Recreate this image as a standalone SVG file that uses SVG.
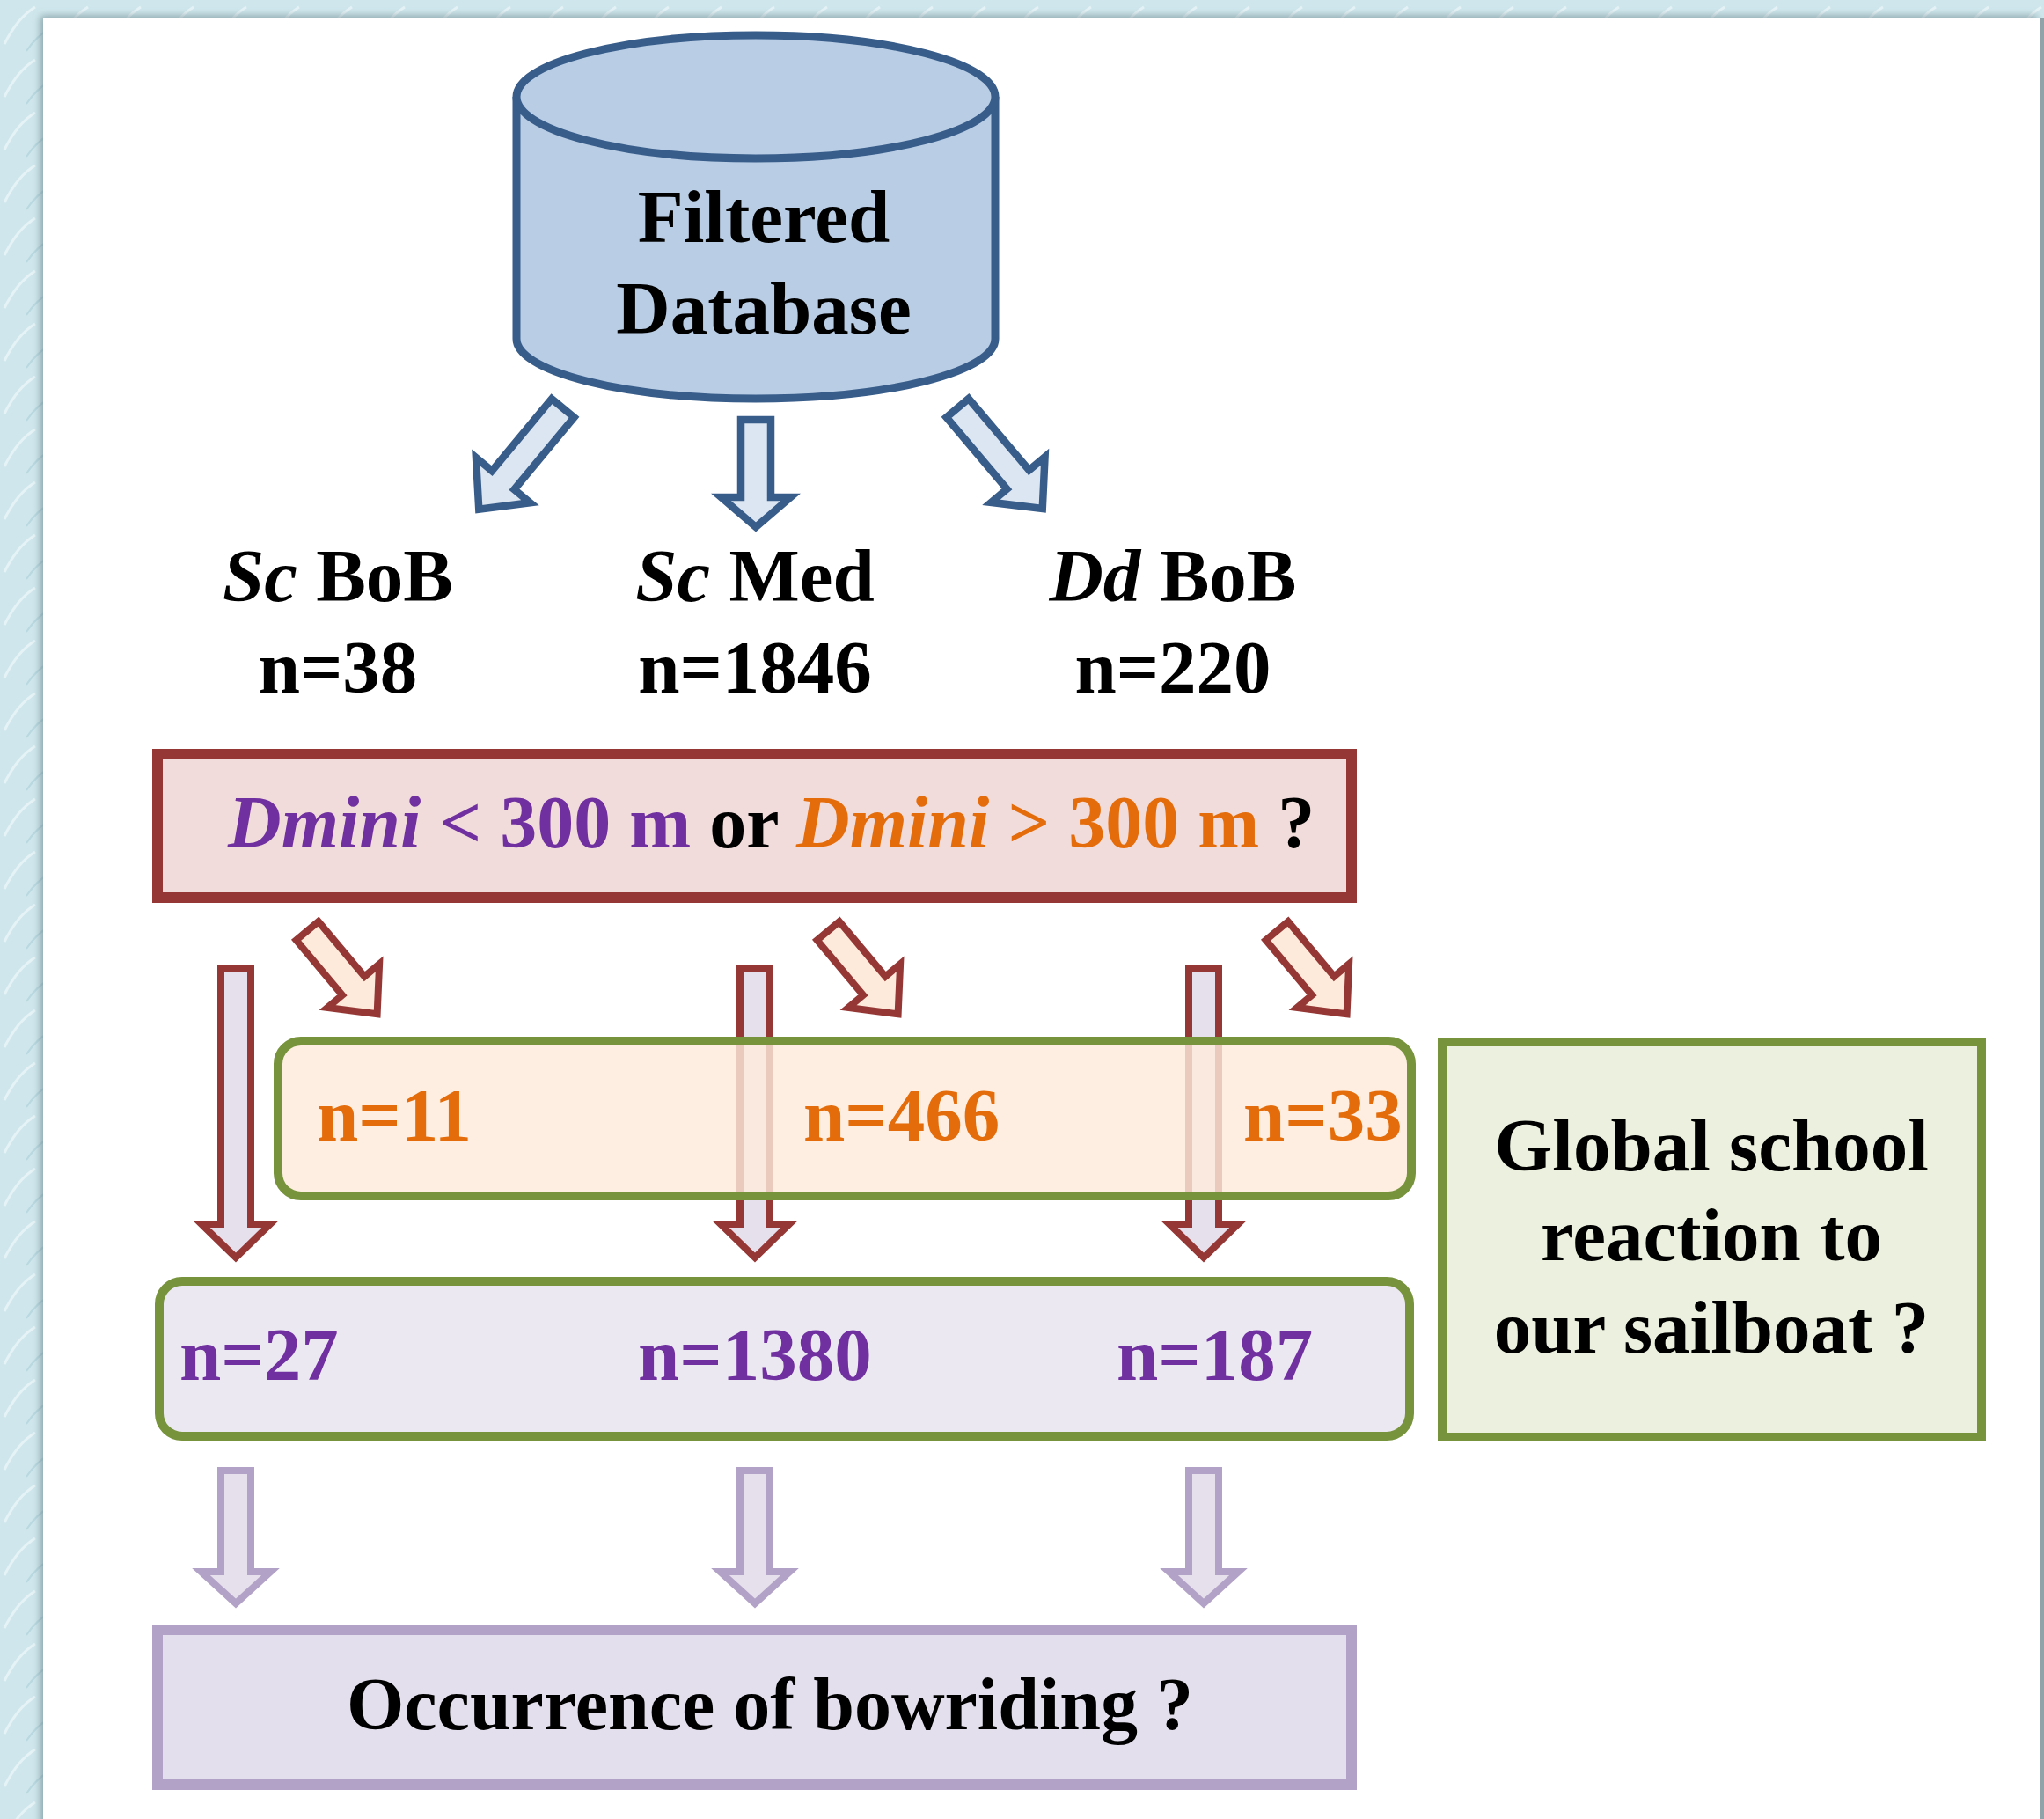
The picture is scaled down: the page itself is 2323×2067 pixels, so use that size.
<svg xmlns="http://www.w3.org/2000/svg" width="2323" height="2067" viewBox="0 0 2323 2067">
  <defs>
    <style>
      .t { font-family: "Liberation Serif", "Times New Roman", serif; font-weight: bold; font-size: 85px; }
      .t84 { font-size: 84px; }
      .blk { fill: #000000; }
      .pur { fill: #7030a0; }
      .org { fill: #e46c0a; }
      .arr-blue { fill: #dce6f2; stroke: #385d8a; stroke-width: 8.5; stroke-linejoin: miter; }
      .arr-red-v { fill: #e6e0ec; stroke: #953735; stroke-width: 8; stroke-linejoin: miter; }
      .arr-red-d { fill: #fdeada; stroke: #953735; stroke-width: 8; stroke-linejoin: miter; }
      .arr-pur { fill: #e6e0ec; stroke: #b3a2c7; stroke-width: 8; stroke-linejoin: miter; }
    </style>
    <filter id="panelShadow" x="-2%" y="-2%" width="104%" height="104%">
      <feDropShadow dx="-3" dy="-2" stdDeviation="4" flood-color="#5c7680" flood-opacity="0.6"/>
    </filter>
    <pattern id="frost" width="60" height="60" patternUnits="userSpaceOnUse">
      <rect width="60" height="60" fill="#cfe7ec"/>
      <path d="M5 50 Q20 20 40 8" stroke="#e6f3f6" stroke-width="3" fill="none"/>
      <path d="M30 58 Q42 40 58 32" stroke="#b9d8df" stroke-width="2" fill="none"/>
    </pattern>
    <!-- block arrow pointing down, tail centred on the origin -->
    <path id="arrowDiagBlue" d="M -16.5 3.5 H 16.5 V 110 H 40 L 0 153 L -40 110 H -16.5 Z"/>
    <path id="arrowDiagRed" d="M -16.5 3.5 H 16.5 V 85 H 38.5 L 0 127 L -38.5 85 H -16.5 Z"/>
  </defs>

  <!-- frame and page -->
  <rect x="0" y="0" width="2323" height="2067" fill="url(#frost)"/>
  <rect x="49" y="20" width="2269" height="2060" fill="#ffffff" filter="url(#panelShadow)"/>
  <rect x="2318" y="20" width="5" height="2047" fill="#8fa3a8"/>

  <!-- connectors -->
  <g id="connectors">
    <!-- database to groups -->
    <path class="arr-blue" d="M 842 477 H 876 V 565 H 898.5 L 859 599 L 819.5 565 H 842 Z"/>
    <use href="#arrowDiagBlue" class="arr-blue" transform="translate(642,461) rotate(39.7)"/>
    <use href="#arrowDiagBlue" class="arr-blue" transform="translate(1086,461) rotate(-40.2)"/>

    <!-- groups, straight down (Dmini < 300 m) -->
    <path class="arr-red-v" d="M 251 1101 H 285 V 1391 H 307 L 268 1429 L 229 1391 H 251 Z"/>
    <path class="arr-red-v" d="M 841 1101 H 875 V 1391 H 897 L 858 1429 L 819 1391 H 841 Z"/>
    <path class="arr-red-v" d="M 1351 1101 H 1385 V 1391 H 1407 L 1368 1429 L 1329 1391 H 1351 Z"/>

    <!-- groups, diagonal (Dmini > 300 m) -->
    <use href="#arrowDiagRed" class="arr-red-d" transform="translate(347,1055) rotate(-40)"/>
    <use href="#arrowDiagRed" class="arr-red-d" transform="translate(939,1055) rotate(-40)"/>
    <use href="#arrowDiagRed" class="arr-red-d" transform="translate(1449,1055) rotate(-40)"/>

    <!-- to bowriding -->
    <path class="arr-pur" d="M 251 1671 H 285 V 1786 H 307.5 L 268 1822 L 228.5 1786 H 251 Z"/>
    <path class="arr-pur" d="M 841 1671 H 875 V 1786 H 897.5 L 858 1822 L 818.5 1786 H 841 Z"/>
    <path class="arr-pur" d="M 1351 1671 H 1385 V 1786 H 1407.5 L 1368 1822 L 1328.5 1786 H 1351 Z"/>
  </g>

  <!-- database cylinder -->
  <g id="database">
    <path d="M 587 110 V 385 A 272 68 0 0 0 1131 385 V 110" fill="#b9cde5" stroke="#385d8a" stroke-width="9"/>
    <ellipse cx="859" cy="110" rx="272" ry="70" fill="#b9cde5" stroke="#385d8a" stroke-width="9"/>
    <text class="t blk" x="868" y="275" text-anchor="middle">Filtered</text>
    <text class="t blk" x="868" y="379" text-anchor="middle">Database</text>
  </g>

  <!-- species / area groups -->
  <g id="group-sc-bob">
    <text class="t blk" x="384" y="683" text-anchor="middle"><tspan font-style="italic">Sc</tspan> BoB</text>
    <text class="t blk" x="384" y="787" text-anchor="middle">n=38</text>
  </g>
  <g id="group-sc-med">
    <text class="t blk" x="858" y="683" text-anchor="middle"><tspan font-style="italic">Sc</tspan> Med</text>
    <text class="t blk" x="858" y="787" text-anchor="middle">n=1846</text>
  </g>
  <g id="group-dd-bob">
    <text class="t blk" x="1333" y="683" text-anchor="middle"><tspan font-style="italic">Dd</tspan> BoB</text>
    <text class="t blk" x="1333" y="787" text-anchor="middle">n=220</text>
  </g>

  <!-- distance question -->
  <g id="dmini-question">
    <rect x="179" y="857" width="1357" height="163" fill="#f2dcdb" stroke="#953735" stroke-width="12"/>
    <text class="t t84" x="259" y="963"><tspan class="pur" font-style="italic">Dmini</tspan><tspan class="pur"> &lt; 300 m</tspan><tspan class="blk"> or </tspan><tspan class="org" font-style="italic">Dmini</tspan><tspan class="org"> &gt; 300 m</tspan><tspan class="blk"> ?</tspan></text>
  </g>

  <!-- far schools -->
  <g id="far-schools">
    <rect x="316" y="1183" width="1288" height="176" rx="26" fill="#fdeada" fill-opacity="0.82" stroke="#77933c" stroke-width="10"/>
    <text class="t org" x="360" y="1296">n=11</text>
    <text class="t org" x="913" y="1296">n=466</text>
    <text class="t org" x="1413" y="1296">n=33</text>
  </g>

  <!-- near schools -->
  <g id="near-schools">
    <rect x="181" y="1456" width="1421" height="176" rx="26" fill="#ebe8f2" stroke="#77933c" stroke-width="10"/>
    <text class="t pur" x="204" y="1568">n=27</text>
    <text class="t pur" x="725" y="1568">n=1380</text>
    <text class="t pur" x="1269" y="1568">n=187</text>
  </g>

  <!-- global reaction question -->
  <g id="global-reaction">
    <rect x="1639" y="1184" width="613" height="449" fill="#ebf1de" stroke="#77933c" stroke-width="10"/>
    <text class="t blk" x="1945" y="1330" text-anchor="middle">Global school</text>
    <text class="t blk" x="1945" y="1432" text-anchor="middle">reaction to</text>
    <text class="t blk" x="1945" y="1537" text-anchor="middle">our sailboat ?</text>
  </g>

  <!-- bowriding question -->
  <g id="bowriding">
    <rect x="179" y="1852" width="1357" height="176" fill="#e4dfec" stroke="#b3a2c7" stroke-width="12"/>
    <text class="t t84 blk" x="875" y="1965" text-anchor="middle">Occurrence of bowriding ?</text>
  </g>
</svg>
